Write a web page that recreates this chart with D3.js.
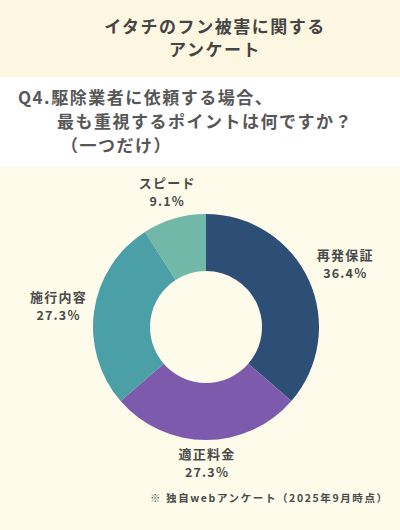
<!DOCTYPE html>
<html>
<head>
<meta charset="utf-8">
<script src="https://cdn.jsdelivr.net/npm/d3@7"></script>
<style>
  body { margin: 0; background: #fefbeb; }
  svg { display: block; font-family: "Noto Sans CJK JP", "Noto Sans", sans-serif; }
</style>
</head>
<body>
<svg width="400" height="530"></svg>
<script>
const categories = ["再発保証", "適正料金", "施行内容", "スピード"];
const values = [36.4, 27.3, 27.3, 9.1];
const colors = ["#2d4f75", "#7d5aab", "#4ba0a8", "#72b8a8"];
const titleLines = ["イタチのフン被害に関する", "アンケート"];
const questionLines = ["Q4.駆除業者に依頼する場合、", "最も重視するポイントは何ですか？", "（一つだけ）"];
const note = "※ 独自webアンケート（2025年9月時点）";

const svg = d3.select("svg");
const width = +svg.attr("width");
const height = +svg.attr("height");

// backgrounds
svg.append("rect").attr("width", width).attr("height", height).attr("fill", "#fefbeb");
svg.append("rect").attr("width", width).attr("height", 77).attr("fill", "#fdf7e2");
svg.append("rect").attr("y", 77).attr("width", width).attr("height", 89).attr("fill", "#ffffff");

// title
svg.selectAll("text.title")
  .data(titleLines)
  .enter().append("text")
  .attr("class", "title")
  .attr("x", 215)
  .attr("y", (d, i) => 33 + i * 23)
  .attr("text-anchor", "middle")
  .attr("font-size", 17)
  .attr("font-weight", "bold")
  .attr("letter-spacing", 1.5)
  .attr("fill", "#454545")
  .text(d => d);

// question
const qx = [18, 57, 61];
svg.selectAll("text.q")
  .data(questionLines)
  .enter().append("text")
  .attr("class", "q")
  .attr("x", (d, i) => qx[i])
  .attr("y", (d, i) => 104 + i * 24)
  .attr("font-size", 17)
  .attr("font-weight", "bold")
  .attr("letter-spacing", 1.5)
  .attr("fill", "#575757")
  .text(d => d);

// donut
const cx = 206, cy = 327;
const outerR = 113, innerR = 56;
const pie = d3.pie().sort(null).value(d => d.value);
const arcs = pie(categories.map((c, i) => ({ name: c, value: values[i], color: colors[i] })));
const arc = d3.arc().innerRadius(innerR).outerRadius(outerR);

const g = svg.append("g").attr("transform", `translate(${cx},${cy})`);
g.selectAll("path")
  .data(arcs)
  .enter().append("path")
  .attr("d", arc)
  .attr("fill", d => d.data.color);

// labels: positioned along each slice's mid angle
const labelR = [152, 136, 150, 141];
const labels = g.selectAll("g.label")
  .data(arcs)
  .enter().append("g")
  .attr("class", "label")
  .attr("transform", (d, i) => {
    const a = (d.startAngle + d.endAngle) / 2;
    return `translate(${Math.sin(a) * labelR[i]},${-Math.cos(a) * labelR[i]})`;
  });

labels.append("text")
  .attr("text-anchor", "middle")
  .attr("x", 1)
  .attr("y", -4)
  .attr("font-size", 13)
  .attr("font-weight", "bold")
  .attr("letter-spacing", 1.2)
  .attr("fill", "#4a4a4a")
  .text(d => d.data.name);

labels.append("text")
  .attr("text-anchor", "middle")
  .attr("x", 1)
  .attr("y", 14)
  .attr("font-size", 12.5)
  .attr("font-weight", "bold")
  .attr("letter-spacing", 1.2)
  .attr("fill", "#4a4a4a")
  .text(d => d3.format(".1f")(d.data.value) + "%");

// note
svg.append("text")
  .attr("x", 150)
  .attr("y", 502)
  .attr("font-size", 10.5)
  .attr("font-weight", "bold")
  .attr("letter-spacing", 1.6)
  .attr("fill", "#4a4a4a")
  .text(note);
</script>
</body>
</html>
